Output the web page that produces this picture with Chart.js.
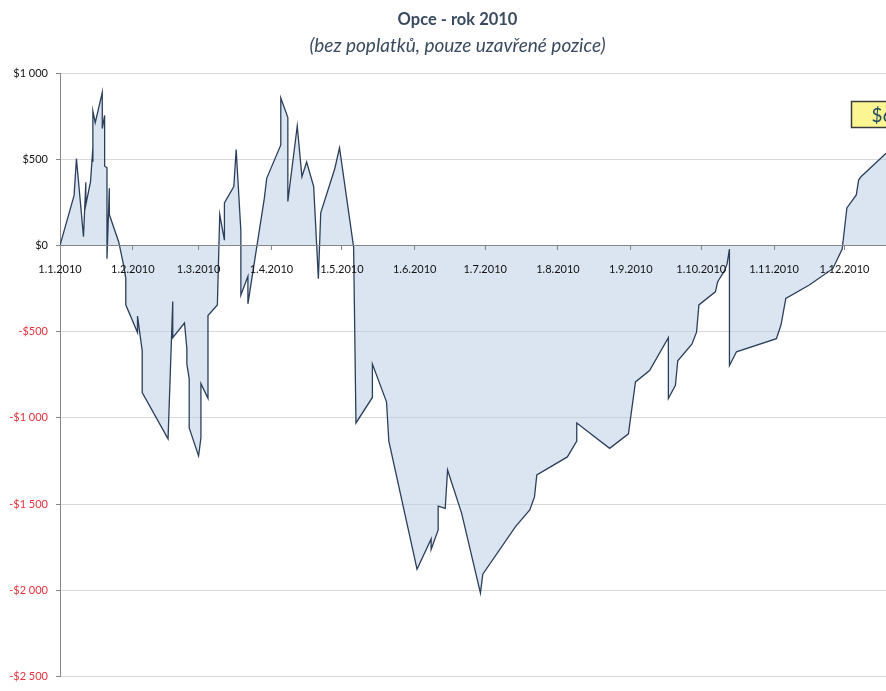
<!DOCTYPE html>
<html>
<head>
<meta charset="utf-8">
<script src="https://cdn.jsdelivr.net/npm/chart.js@4.4.1/dist/chart.umd.min.js"></script>
<style>
  html, body { margin: 0; padding: 0; background: #ffffff; overflow: hidden; }
  canvas { display: block; }
</style>
</head>
<body>
<canvas id="c" width="922" height="691" style="width:922px;height:691px"></canvas>
<script>
// ---- data ----
const chartTitle = "Opce - rok 2010";
const chartSubtitle = "(bez poplatků, pouze uzavřené pozice)";

const closeDates = [
  "2010-01-01","2010-01-07","2010-01-08","2010-01-11","2010-01-12","2010-01-12","2010-01-14","2010-01-15","2010-01-15","2010-01-15",
  "2010-01-16","2010-01-19","2010-01-19","2010-01-20","2010-01-20","2010-01-21","2010-01-21","2010-01-22","2010-01-22","2010-01-26",
  "2010-01-28","2010-01-29","2010-01-29","2010-02-03","2010-02-03","2010-02-05","2010-02-05","2010-02-16","2010-02-18","2010-02-18",
  "2010-02-23","2010-02-24","2010-02-24","2010-02-25","2010-02-25","2010-03-01","2010-03-02","2010-03-02","2010-03-05","2010-03-05",
  "2010-03-09","2010-03-10","2010-03-12","2010-03-12","2010-03-16","2010-03-17","2010-03-19","2010-03-19","2010-03-22","2010-03-22",
  "2010-03-29","2010-03-30","2010-04-05","2010-04-05","2010-04-08","2010-04-08","2010-04-12","2010-04-14","2010-04-16","2010-04-19",
  "2010-04-21","2010-04-22","2010-04-28","2010-04-30","2010-05-06","2010-05-07","2010-05-14","2010-05-14","2010-05-20","2010-05-21",
  "2010-06-02","2010-06-08","2010-06-08","2010-06-11","2010-06-11","2010-06-14","2010-06-15","2010-06-21","2010-06-29","2010-06-30",
  "2010-07-14","2010-07-20","2010-07-22","2010-07-23","2010-08-05","2010-08-09","2010-08-09","2010-08-23","2010-08-31","2010-09-01",
  "2010-09-03","2010-09-09","2010-09-17","2010-09-17","2010-09-20","2010-09-21","2010-09-27","2010-09-29","2010-09-30","2010-10-07",
  "2010-10-08","2010-10-11","2010-10-12","2010-10-13","2010-10-13","2010-10-16","2010-11-02","2010-11-04","2010-11-05","2010-11-06",
  "2010-11-16","2010-11-26","2010-11-30","2010-12-02","2010-12-06","2010-12-07","2010-12-08","2010-12-18","2010-12-25","2010-12-31"
];
const cumulativePL = [
  0, 290, 503, 50, 366, 236, 370, 570, 484, 779,
  712, 887, 678, 754, 461, 450, -78, 331, 179, 20,
  -110, -190, -345, -505, -410, -612, -853, -1122, -326, -535,
  -450, -598, -687, -773, -1059, -1221, -1116, -802, -887, -407,
  -345, 179, 30, 246, 341, 556, 84, -288, -179, -339,
  274, 389, 583, 855, 741, 255, 693, 398, 484, 341,
  -193, 189, 446, 566, -10, -1030, -882, -688, -907, -1135,
  -1878, -1703, -1764, -1650, -1512, -1526, -1303, -1554, -2017, -1907,
  -1630, -1535, -1459, -1331, -1227, -1135, -1030, -1177, -1093, -992,
  -792, -726, -535, -888, -811, -669, -573, -503, -345, -269,
  -211, -145, -107, -21, -697, -617, -541, -459, -383, -307,
  -230, -135, -21, 217, 293, 379, 398, 526, 610, 665
];
const monthTickLabels = ["1.1.2010","1.2.2010","1.3.2010","1.4.2010","1.5.2010","1.6.2010",
                         "1.7.2010","1.8.2010","1.9.2010","1.10.2010","1.11.2010","1.12.2010"];
const yMin = -2500, yMax = 1000, yStep = 500;
const axisStartDate = "2010-01-01", axisEndDate = "2010-12-31";

// ---- helpers ----
const DAY = 86400000;
const base = Date.UTC(2010, 0, 1);
function isoToDay(s) { const [y, m, d] = s.split("-").map(Number); return (Date.UTC(y, m - 1, d) - base) / DAY; }
function czToDay(s) { const [d, m, y] = s.split(".").map(Number); return (Date.UTC(y, m - 1, d) - base) / DAY; }
const tickDays = monthTickLabels.map(czToDay);
const points = closeDates.map((d, i) => ({ x: isoToDay(d), y: cumulativePL[i] }));
function money(v) {
  const a = Math.abs(v);
  const s = String(a).replace(/\B(?=(\d{3})+(?!\d))/g, " ");
  return (v < 0 ? "-$" : "$") + s;
}
const lastValue = cumulativePL[cumulativePL.length - 1];

const labelBox = {
  id: 'labelBox',
  afterDraw(chart) {
    const { ctx, chartArea } = chart;
    const text = money(lastValue);
    ctx.save();
    ctx.font = '19px Lato';
    const tw = ctx.measureText(text).width;
    const bx = chartArea.right - 63.5, by = 101.5, bw = tw + 40, bh = 26;
    ctx.fillStyle = '#fbf592';
    ctx.fillRect(bx, by, bw, bh);
    ctx.strokeStyle = '#3c3c3c';
    ctx.lineWidth = 1.5;
    ctx.strokeRect(bx, by, bw, bh);
    ctx.fillStyle = '#1f4a5e';
    ctx.textBaseline = 'middle';
    ctx.textAlign = 'left';
    ctx.fillText(text, bx + 20, by + bh / 2 + 1);
    ctx.restore();
  }
};

new Chart(document.getElementById('c'), {
  type: 'line',
  data: {
    datasets: [{
      data: points,
      borderColor: '#2c3f5a',
      borderWidth: 1.3,
      backgroundColor: 'rgba(183,204,230,0.5)',
      fill: 'origin',
      pointRadius: 0,
      tension: 0
    }]
  },
  options: {
    responsive: false,
    animation: false,
    layout: { padding: { left: 0, top: 0, right: 7, bottom: 6 } },
    plugins: {
      legend: { display: false },
      tooltip: { enabled: false },
      title: {
        display: true, text: chartTitle, color: '#3a4a5f',
        font: { family: 'Lato', size: 16.5, weight: 'bold', lineHeight: 1.2 },
        padding: { top: 10, bottom: 5 }
      },
      subtitle: {
        display: true, text: chartSubtitle, color: '#3a4a5f',
        font: { family: 'Lato', size: 19, style: 'italic', lineHeight: 1.2 },
        padding: { top: 0, bottom: 15.4 }
      }
    },
    scales: {
      x: {
        type: 'linear',
        min: isoToDay(axisStartDate), max: isoToDay(axisEndDate),
        position: { y: 0 },
        afterBuildTicks: s => { s.ticks = tickDays.map(v => ({ value: v })); },
        grid: { drawOnChartArea: false, drawTicks: true, tickLength: 4, tickColor: '#868686', z: 1 },
        border: { color: '#868686', width: 1, z: 1 },
        ticks: {
          autoSkip: false, maxRotation: 0, padding: 13, z: 1,
          font: { family: 'Lato', size: 11 }, color: '#111111',
          callback: v => monthTickLabels[tickDays.indexOf(v)] || ''
        }
      },
      y: {
        min: yMin, max: yMax,
        afterFit: s => { s.width = 60; },
        grid: { color: '#d9d9d9', tickLength: 4, tickColor: '#868686' },
        border: { color: '#868686', width: 1 },
        ticks: {
          stepSize: yStep, padding: 8,
          font: { family: 'Lato', size: 11 },
          color: c => (c.tick && c.tick.value < 0) ? '#e3323c' : '#111111',
          callback: v => money(v)
        }
      }
    }
  },
  plugins: [labelBox]
});
</script>
</body>
</html>
